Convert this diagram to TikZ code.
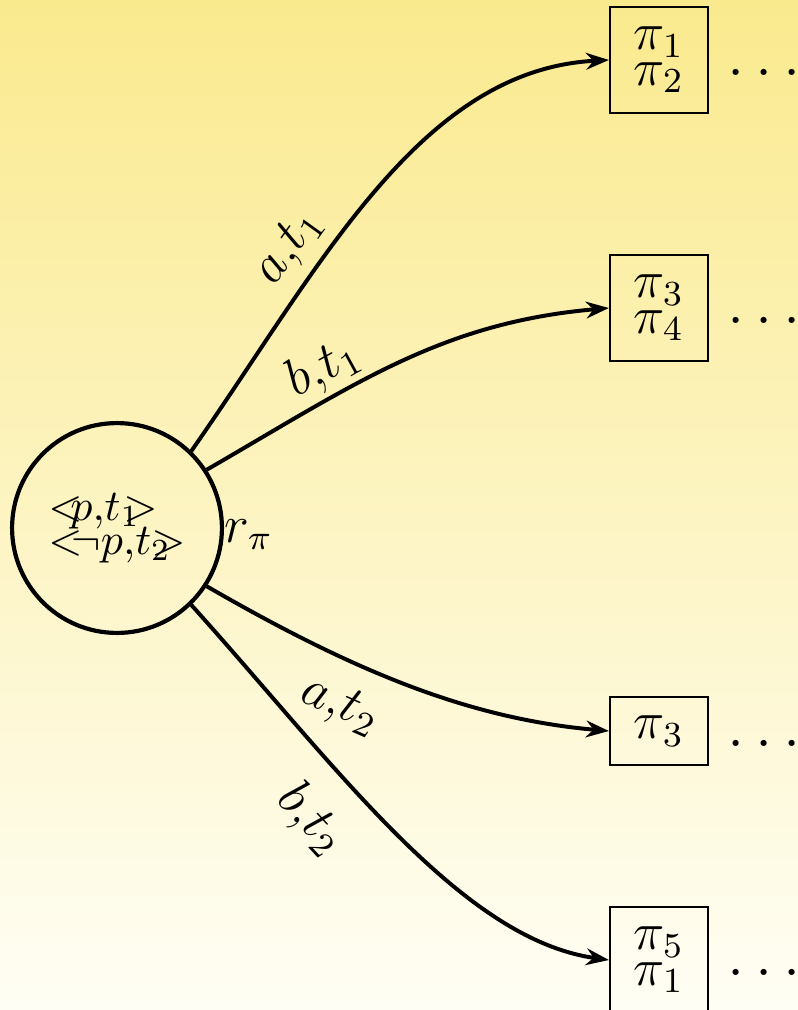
\documentclass[tikz,border=0pt]{standalone}
\usepackage{tikz}
\usetikzlibrary{arrows.meta, positioning}
\definecolor{topcol}{RGB}{250, 234, 142}
\definecolor{botcol}{RGB}{255, 254, 245}
\tikzset{
  state/.style = {draw, circle, line width=0.95pt, minimum size=47.7pt,
                  inner sep=0pt, align=left},
  perm/.style  = {draw, line width=0.45pt, minimum width=22.3pt,
                  minimum height=23.9pt, inner sep=1pt, align=center,
                  font=\large},
  trans/.style = {-{Stealth[length=5.2pt, width=3.8pt]}, line width=0.9pt},
  lbl/.style   = {sloped, inner sep=1pt, font=\large},
  more/.style  = {anchor=base west, inner sep=0pt, font=\Large},
}

\begin{document}
\begin{tikzpicture}[x=0.2273pt, y=-0.2273pt]

  %% ---------------- background ----------------
  \shade[top color=topcol, bottom color=botcol] (0,0) rectangle (798,1010);
  \useasboundingbox (0,0) rectangle (798,1010);

  %% ---------------- the root ----------------
  \node[state] (root) at (117,528)
       {$<\mkern-10mu p{,}t_1\mkern-12mu>$\\[-4.3pt]%
        $<\mkern-9.5mu\neg p{,}t_2\mkern-13mu>$};
  \node[anchor=west, inner sep=0pt, font=\large] (rpi)
       at ([yshift=-1.5pt]root.east) {$r_\pi$};

  %% ---------------- the successors ----------------
  \node[perm] (s12) at (659,60)  {$\pi_1$\\[-6pt]$\pi_2$};
  \node[perm] (s34) at (659,308) {$\pi_3$\\[-6pt]$\pi_4$};
  \node[perm, minimum height=15.5pt] (s3) at (659,731) {$\pi_3$};
  \node[perm] (s51) at (659,960) {$\pi_5$\\[-6pt]$\pi_1$};

  % the runs go on past the edge
  \foreach \s in {s12, s34, s3, s51} {
    \node[more] (\s dots) at ([xshift=4.1pt, yshift=-3.5pt]\s.east) {$\ldots$};
  }

  %% ---------------- transitions ----------------
  \draw[trans] (root.46) to[out=55, in=183, in looseness=0.85]
       node[lbl, above=1.5pt, pos=0.34] {$a$,$t_1$} (s12.west);
  \draw[trans] (root.33) to[out=30, in=185]
       node[lbl, above=0pt, pos=0.33] {$b$,$t_1$} (s34.west);
  \draw[trans] (root.-33) to[out=-30, in=175, in looseness=0.85]
       node[lbl, below=4pt, pos=0.37] {$a$,$t_2$} (s3.west);
  \draw[trans] (root.-46) to[out=-48, in=172, in looseness=0.7]
       node[lbl, below=5pt, pos=0.38] {$b$,$t_2$} (s51.west);

\end{tikzpicture}
\end{document}
